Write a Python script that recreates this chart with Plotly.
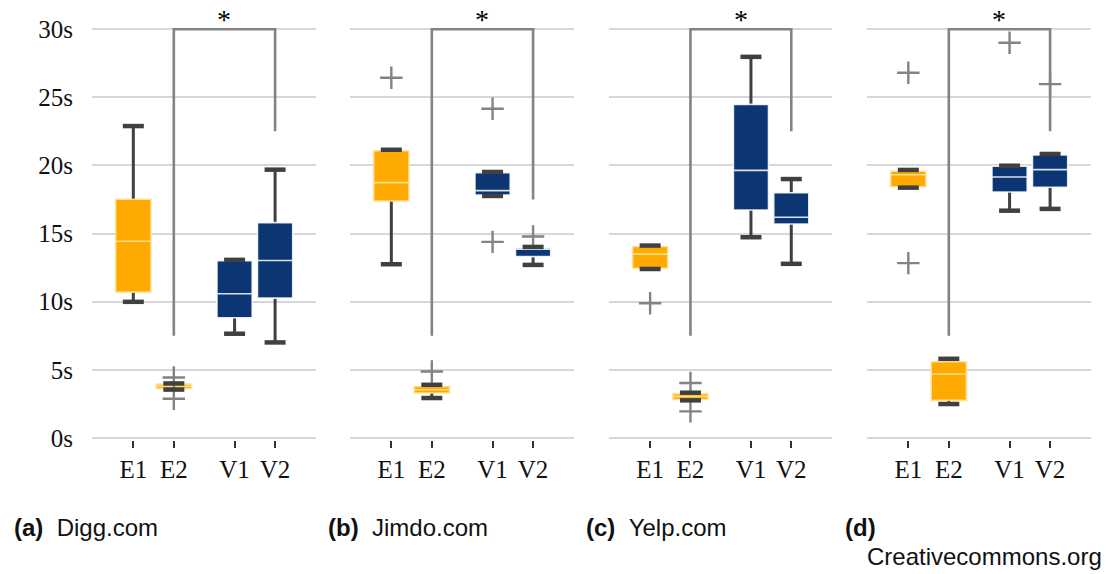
import plotly.graph_objects as go

# ---------------- data ----------------
categories = ["E1", "E2", "V1", "V2"]
panel_labels = ["(a)", "(b)", "(c)", "(d)"]
panel_sites = ["Digg.com", "Jimdo.com", "Yelp.com", ""]
extra_caption = "Creativecommons.org"

# box statistics per panel, one value per category (E1, E2, V1, V2), in seconds
lower_a = [9.99, 3.55, 7.65, 7.01]
q1_a = [10.70, 3.62, 8.82, 10.26]
med_a = [14.44, 3.80, 10.58, 13.02]
q3_a = [17.52, 3.95, 13.00, 15.80]
upper_a = [22.89, 4.00, 13.07, 19.69]
out_cat_a = ["E2", "E2"]
out_val_a = [4.44, 2.88]

lower_b = [12.75, 2.93, 17.76, 12.70]
q1_b = [17.39, 3.30, 17.83, 13.31]
med_b = [18.74, 3.54, 18.15, 13.85]
q3_b = [21.08, 3.78, 19.47, 13.95]
upper_b = [21.15, 3.90, 19.52, 14.02]
out_cat_b = ["E1", "E2", "V1", "V1", "V2"]
out_val_b = [26.43, 4.88, 24.16, 14.39, 14.78]

lower_c = [12.40, 2.76, 14.73, 12.78]
q1_c = [12.46, 2.82, 16.73, 15.70]
med_c = [13.49, 3.05, 19.64, 16.20]
q3_c = [14.05, 3.25, 24.48, 18.00]
upper_c = [14.12, 3.32, 27.97, 19.00]
out_cat_c = ["E1", "E2", "E2"]
out_val_c = [9.89, 4.03, 1.95]

lower_d = [18.37, 2.49, 16.68, 16.81]
q1_d = [18.44, 2.76, 18.05, 18.40]
med_d = [19.32, 4.69, 19.15, 19.69]
q3_d = [19.57, 5.59, 19.94, 20.77]
upper_d = [19.67, 5.81, 19.98, 20.84]
out_cat_d = ["E1", "E1", "V1", "V2"]
out_val_d = [26.80, 12.83, 29.00, 25.97]

# significance bracket: from E2 to V2, (left foot, top, right foot)
bracket_left = [7.5, 7.5, 7.5, 7.5]
bracket_top = [30, 30, 30, 30]
bracket_right = [22.5, 17.5, 22.5, 22.5]
bracket_label = "*"

y_ticks = [0, 5, 10, 15, 20, 25, 30]
y_ticktext = [f"{v}s" for v in y_ticks]

panels = [
    (lower_a, q1_a, med_a, q3_a, upper_a, out_cat_a, out_val_a),
    (lower_b, q1_b, med_b, q3_b, upper_b, out_cat_b, out_val_b),
    (lower_c, q1_c, med_c, q3_c, upper_c, out_cat_c, out_val_c),
    (lower_d, q1_d, med_d, q3_d, upper_d, out_cat_d, out_val_d),
]

# ---------------- style / layout ----------------
W, H = 1114, 574
CAT_POS = [1, 2, 3.5, 4.5]
pos_of = dict(zip(categories, CAT_POS))
ORANGE = "#FFAA00"
NAVY = "#0C3573"
WHISK = "#404040"
GREY = "#838383"
GRID = "#d7d7d7"
SERIF = "Liberation Serif"
SANS = "Liberation Sans"
px_domains = [(92, 316), (350, 574), (609, 832), (867, 1091)]
TOP_PX, BOT_PX = 21, 440
M_T, M_B = TOP_PX, H - BOT_PX
plot_h = H - M_T - M_B

fig = go.Figure()

for p, (lo, q1, med, q3, hi, ocat, oval) in enumerate(panels):
    xa = "x" if p == 0 else f"x{p+1}"
    ya = "y" if p == 0 else f"y{p+1}"

    e2, v2 = pos_of["E2"], pos_of["V2"]
    fig.add_trace(go.Scatter(
        x=[e2, e2, v2, v2],
        y=[bracket_left[p], bracket_top[p], bracket_top[p], bracket_right[p]],
        mode="lines", line=dict(color=GREY, width=2.6),
        xaxis=xa, yaxis=ya, showlegend=False, hoverinfo="skip", cliponaxis=False))
    fig.add_trace(go.Scatter(
        x=[pos_of[c] for c in ocat], y=oval, mode="markers",
        marker=dict(symbol="cross-thin", size=16, line=dict(color=GREY, width=2.4)),
        xaxis=xa, yaxis=ya, showlegend=False, cliponaxis=False))
    fig.add_trace(go.Scatter(
        x=CAT_POS + CAT_POS, y=lo + hi, mode="markers",
        marker=dict(symbol="line-ew", size=15, line=dict(color=WHISK, width=4.5)),
        xaxis=xa, yaxis=ya, showlegend=False, hoverinfo="skip", cliponaxis=False))

    # whiskers (box collapsed to the median, hidden behind the real box)
    fig.add_trace(go.Box(
        x=CAT_POS, q1=med, median=med, q3=med, lowerfence=lo, upperfence=hi,
        width=0.3, whiskerwidth=0, line=dict(color=WHISK, width=3),
        fillcolor="rgba(0,0,0,0)", boxpoints=False,
        xaxis=xa, yaxis=ya, showlegend=False, hoverinfo="skip"))

    for idx, color, edge in ((slice(0, 2), ORANGE, "rgba(255,225,150,0.9)"),
                             (slice(2, 4), NAVY, "rgba(255,255,255,0.85)")):
        fig.add_trace(go.Box(
            x=CAT_POS[idx], q1=q1[idx], median=med[idx], q3=q3[idx],
            lowerfence=q1[idx], upperfence=q3[idx],
            width=0.87, whiskerwidth=0, fillcolor=color,
            line=dict(color=edge, width=1.6),
            boxpoints=False, xaxis=xa, yaxis=ya, showlegend=False))

    x0, x1 = px_domains[p]
    fig.layout[f"xaxis{'' if p == 0 else p+1}"] = dict(
        domain=[x0 / W, x1 / W], range=[-0.02, 5.51], anchor=ya,
        tickmode="array", tickvals=CAT_POS, ticktext=categories,
        ticks="outside", ticklen=7, tickwidth=2, tickcolor="#333333",
        showgrid=False, zeroline=False, showline=False,
        tickfont=dict(family=SERIF, size=25, color="#111111"),
        ticklabelstandoff=0)
    fig.layout[f"yaxis{'' if p == 0 else p+1}"] = dict(
        domain=[0, 1], range=[-0.15, 30.6], anchor=xa,
        tickmode="array", tickvals=y_ticks, ticktext=y_ticktext,
        showticklabels=(p == 0), ticks="", ticklabelstandoff=18,
        showgrid=True, gridcolor=GRID, gridwidth=2,
        zeroline=False, showline=False,
        tickfont=dict(family=SERIF, size=25, color="#111111"))

    fig.add_annotation(
        x=(e2 + v2) / 2, y=bracket_top[p], xref=xa, yref=ya,
        text=bracket_label, showarrow=False, yanchor="bottom", yshift=-8,
        font=dict(family=SERIF, size=28, color="#000000"))

# captions (screen px -> paper coords)
def px_x(pix):
    return pix / W

def px_y(pix):
    return (BOT_PX - pix) / plot_h

cap_x = [12, 326, 584, 843]
for p in range(4):
    txt = f"<b>{panel_labels[p]}</b>"
    if panel_sites[p]:
        txt += "\u00a0\u00a0" + panel_sites[p]
    fig.add_annotation(x=px_x(cap_x[p]), y=px_y(527), xref="paper", yref="paper",
                       text=txt, showarrow=False, xanchor="left", yanchor="middle",
                       font=dict(family=SANS, size=24, color="#111111"))
fig.add_annotation(x=px_x(1104), y=px_y(556), xref="paper", yref="paper",
                   text=extra_caption, showarrow=False, xanchor="right", yanchor="middle",
                   font=dict(family=SANS, size=24, color="#111111"))

fig.update_layout(
    width=W, height=H, margin=dict(l=0, r=0, t=M_T, b=M_B),
    paper_bgcolor="white", plot_bgcolor="white", boxmode="overlay",
)

fig.write_html("out.html",
               config={"displayModeBar": False},
               post_script="document.body.style.margin='0';document.body.style.overflow='hidden';")
